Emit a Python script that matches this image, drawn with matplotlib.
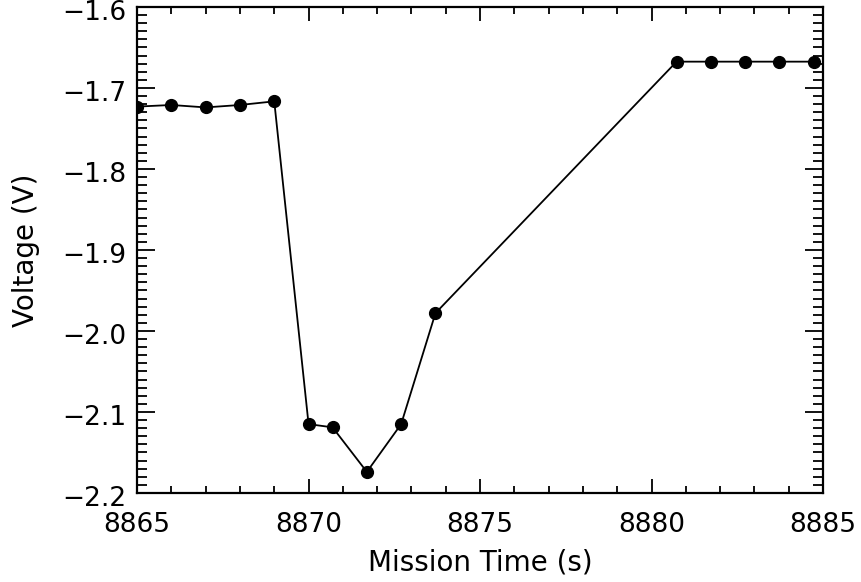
import matplotlib.pyplot as plt
import matplotlib.transforms as mtransforms
from matplotlib.ticker import MultipleLocator

# время миссии (с) и напряжение (В)
mission_time = [8865.0, 8866.0, 8867.0, 8868.0, 8869.0,
                8870.0, 8870.7, 8871.7, 8872.7, 8873.7,
                8880.73, 8881.73, 8882.73, 8883.73, 8884.74]
voltage = [-1.723, -1.721, -1.724, -1.721, -1.7165,
           -2.115, -2.119, -2.174, -2.115, -1.978,
           -1.6675, -1.6675, -1.6675, -1.6675, -1.6675]

plt.rcParams['font.family'] = ['DejaVu Sans']

fig = plt.figure(figsize=(8.62, 5.82), dpi=100)
ax = fig.add_axes([0.159, 0.153, 0.7958, 0.835])

ax.plot(mission_time, voltage, color='black', linewidth=1.3,
        marker='o', markersize=8.5)

ax.set_xlim(8865, 8885)
ax.set_ylim(-2.2, -1.6)
ax.xaxis.set_major_locator(MultipleLocator(5))
ax.xaxis.set_minor_locator(MultipleLocator(1))
ax.yaxis.set_major_locator(MultipleLocator(0.1))
ax.yaxis.set_minor_locator(MultipleLocator(0.01))
ax.yaxis.set_major_formatter(plt.FuncFormatter(lambda v, p: f'\u2212{abs(v):.1f}'))

ax.tick_params(which='both', direction='in', top=True, right=True, width=1.3)
ax.tick_params(axis='x', which='major', length=10, labelsize=19, pad=14)
ax.tick_params(axis='x', which='minor', length=5)
ax.tick_params(axis='y', which='major', length=13, labelsize=19, pad=8)
ax.tick_params(axis='y', which='minor', length=7)
for s in ax.spines.values():
    s.set_linewidth(1.6)

# подписи оси Y чуть ниже делений, верхнюю ещё ниже, чтобы не обрезалась
for i, lbl in enumerate(ax.yaxis.get_majorticklabels()):
    dy = -12 if i == len(ax.yaxis.get_majorticklabels()) - 1 else -3
    off = mtransforms.ScaledTranslation(0, dy / 100, fig.dpi_scale_trans)
    lbl.set_transform(lbl.get_transform() + off)

ax.set_xlabel('Mission Time (s)', fontsize=20, labelpad=7)
ax.set_ylabel('Voltage (V)', fontsize=20, labelpad=16)

fig.savefig('out.png', dpi=100)
